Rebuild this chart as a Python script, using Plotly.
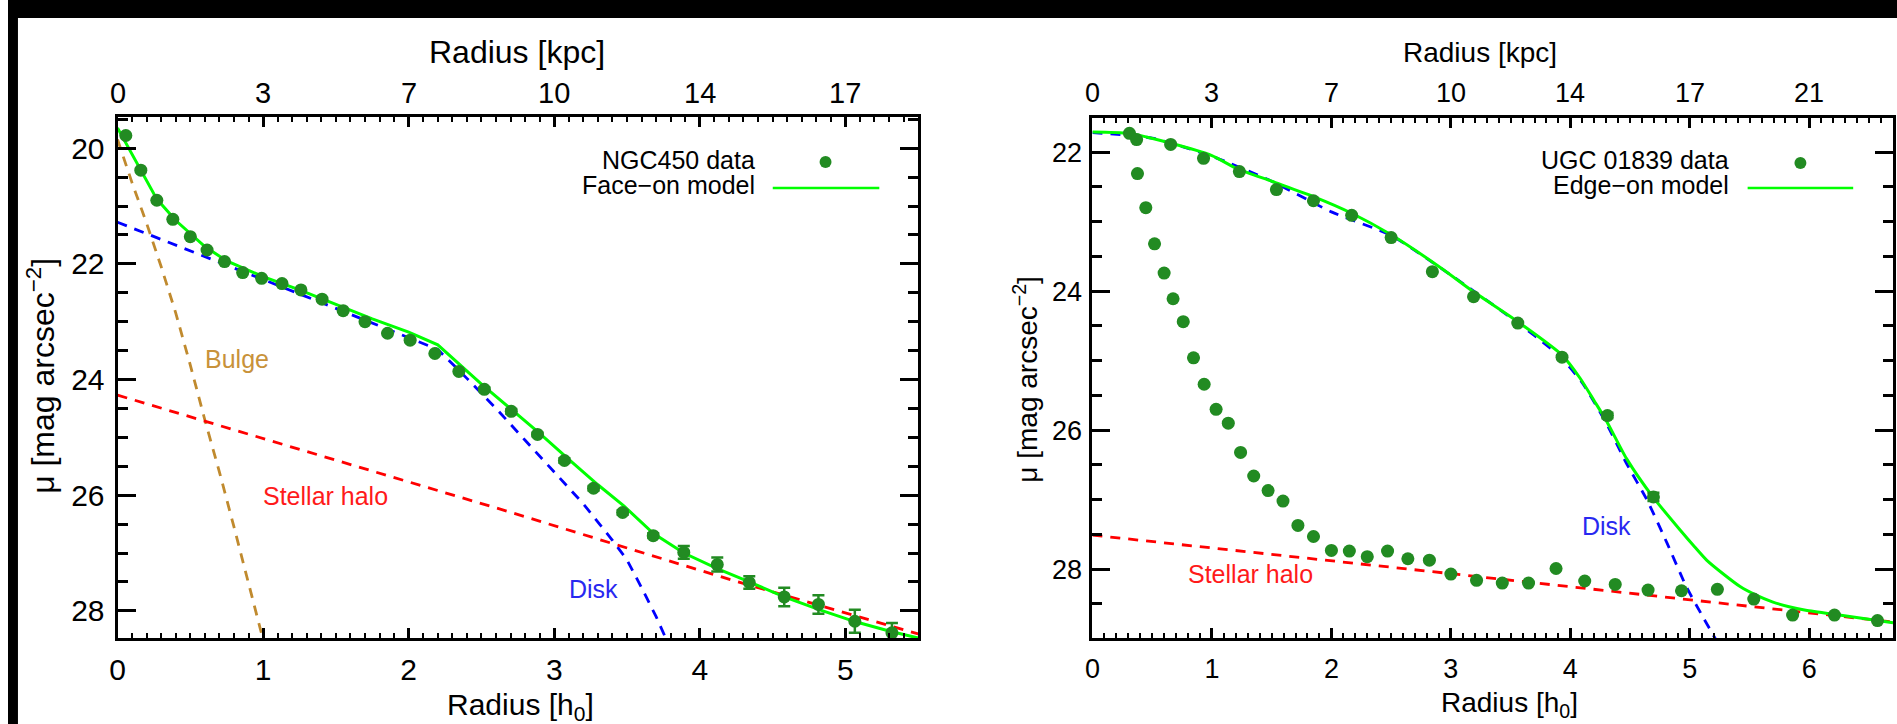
import plotly.graph_objects as go

# ---------------- NGC450 (face-on) ----------------
ngc_r = [0.057, 0.16, 0.27, 0.38, 0.50, 0.615, 0.735, 0.86, 0.99, 1.13, 1.26, 1.405,
         1.55, 1.70, 1.855, 2.01, 2.18, 2.345, 2.52, 2.705, 2.885, 3.07, 3.27, 3.47,
         3.68, 3.89, 4.12, 4.34, 4.58, 4.815, 5.065, 5.32]
ngc_mu = [19.78, 20.38, 20.90, 21.23, 21.53, 21.76, 21.96, 22.15, 22.25, 22.34, 22.45, 22.61,
          22.81, 23.00, 23.20, 23.32, 23.55, 23.86, 24.17, 24.55, 24.95, 25.40, 25.88, 26.30,
          26.70, 26.99, 27.20, 27.51, 27.76, 27.89, 28.18, 28.38]
ngc_err = [0, 0, 0, 0, 0, 0, 0, 0, 0, 0, 0, 0,
           0, 0, 0, 0, 0, 0, 0.03, 0.04, 0.03, 0.04, 0.04, 0.04,
           0.04, 0.11, 0.12, 0.11, 0.16, 0.16, 0.20, 0.17]

ngc_model_r = [0.0, 0.16, 0.27, 0.4, 0.5, 0.6, 0.75, 1.0, 1.25, 1.5, 1.75, 2.0, 2.2, 2.5,
               2.7, 2.9, 3.1, 3.3, 3.48, 3.68, 3.89, 4.12, 4.34, 4.58, 4.82, 5.07, 5.3, 5.5]
ngc_model_mu = [19.65, 20.38, 20.88, 21.25, 21.48, 21.70, 21.95, 22.22, 22.45, 22.70, 22.95,
                23.18, 23.40, 24.08, 24.50, 24.93, 25.38, 25.82, 26.19, 26.66, 27.00, 27.27,
                27.50, 27.76, 27.98, 28.19, 28.35, 28.47]

ngc_bulge_r = [0.0, 0.1, 0.2, 0.3, 0.4, 0.5, 0.6, 0.7, 0.8, 0.9, 1.0]
ngc_bulge_mu = [19.85, 20.60, 21.30, 22.05, 22.85, 23.75, 24.70, 25.60, 26.55, 27.50, 28.50]

ngc_disk_r = [0.0, 0.5, 1.0, 1.5, 2.0, 2.2, 2.4, 2.6, 2.8, 3.0, 3.2, 3.4, 3.5, 3.6, 3.7, 3.78]
ngc_disk_mu = [21.28, 21.77, 22.27, 22.77, 23.27, 23.48, 23.98, 24.50, 25.05, 25.60, 26.15,
               26.78, 27.12, 27.60, 28.10, 28.55]

ngc_halo_r = [0.0, 2.64, 4.21, 5.5]
ngc_halo_mu = [24.27, 26.25, 27.46, 28.40]

# ---------------- UGC 01839 (edge-on) ----------------
ugc_r = [0.31, 0.37, 0.655, 0.93, 1.23, 1.54, 1.85, 2.17, 2.50, 2.845, 3.19, 3.56, 3.93, 4.31, 4.695,
         0.377, 0.447, 0.52, 0.60, 0.675, 0.76, 0.846, 0.935, 1.035, 1.137, 1.24, 1.35, 1.47,
         1.595, 1.72, 1.85, 2.0, 2.15, 2.30, 2.47, 2.64, 2.82, 3.0, 3.215, 3.43, 3.65, 3.88,
         4.12, 4.375, 4.65, 4.93, 5.23, 5.535, 5.86, 6.21, 6.57]
ugc_mu = [21.73, 21.82, 21.89, 22.09, 22.28, 22.54, 22.70, 22.91, 23.23, 23.72, 24.08, 24.46, 24.95, 25.79, 26.96,
          22.31, 22.80, 23.32, 23.74, 24.11, 24.44, 24.96, 25.34, 25.70, 25.90, 26.32, 26.66, 26.87,
          27.02, 27.37, 27.53, 27.73, 27.74, 27.82, 27.74, 27.85, 27.87, 28.07, 28.16, 28.20, 28.20, 27.99,
          28.17, 28.22, 28.30, 28.31, 28.29, 28.43, 28.66, 28.66, 28.74]
ugc_err = [0, 0, 0, 0, 0, 0, 0, 0, 0, 0, 0, 0, 0, 0.04, 0.06] + [0] * 36

ugc_model_r = [0.0, 0.3, 0.65, 1.0, 1.2, 1.5, 1.85, 2.17, 2.5, 2.92, 3.19, 3.56, 3.93, 4.08,
               4.2, 4.3, 4.47, 4.69, 4.92, 5.03, 5.14, 5.28, 5.42, 5.55, 5.69, 5.83, 5.97,
               6.25, 6.7]
ugc_model_mu = [21.71, 21.73, 21.87, 22.05, 22.23, 22.42, 22.64, 22.88, 23.19, 23.67, 24.01,
                24.44, 24.92, 25.25, 25.58, 25.86, 26.41, 26.96, 27.44, 27.66, 27.87, 28.07,
                28.25, 28.37, 28.47, 28.54, 28.59, 28.66, 28.77]

ugc_disk_r = [0.0, 0.5, 1.0, 1.5, 2.0, 2.5, 3.0, 3.5, 3.9, 4.1, 4.3, 4.47, 4.64, 4.81, 4.97, 5.11, 5.22]
ugc_disk_mu = [21.72, 21.80, 22.06, 22.42, 22.86, 23.20, 23.77, 24.38, 24.92, 25.32, 25.90,
               26.48, 27.00, 27.63, 28.25, 28.69, 29.02]

ugc_halo_r = [0.0, 2.975, 6.7]
ugc_halo_mu = [27.51, 28.06, 28.76]

# axis ticks
ngc_h_ticks = [0, 1, 2, 3, 4, 5]
ngc_kpc_labels = ["0", "3", "7", "10", "14", "17"]
ugc_h_ticks = [0, 1, 2, 3, 4, 5, 6]
ugc_kpc_labels = ["0", "3", "7", "10", "14", "17", "21"]
ngc_mu_ticks = [20, 22, 24, 26, 28]
ugc_mu_ticks = [22, 24, 26, 28]

# ---------------- styling ----------------
W, H = 1897, 724
FONT = "Liberation Sans, Arial, Helvetica, sans-serif"
NARROW = "Liberation Sans Narrow, Arial Narrow, Liberation Sans, Arial, sans-serif"
DOT = "#228B22"
MODEL = "#00FF00"
BULGE = "#C08A2E"
DISK = "#0000FF"
HALO = "#FF0000"
DASH = "10px,8px"


def px(x):
    return x / W


def py(y):
    return 1 - y / H


L_DOM = [px(110), px(914)]
R_DOM = [px(1089), px(1893)]
Y_DOM_L = [py(638), py(117)]
Y_DOM_R = [py(638), py(118)]

fig = go.Figure()


def line(x, y, color, xa, ya, dash=None, width=3, shape="linear"):
    fig.add_trace(go.Scatter(x=x, y=y, mode="lines", xaxis=xa, yaxis=ya, showlegend=False,
                             line=dict(color=color, width=width, dash=dash, shape=shape,
                                       smoothing=0.6 if shape == "spline" else None),
                             hoverinfo="skip"))


# left panel
line(ngc_bulge_r, ngc_bulge_mu, BULGE, "x", "y", DASH, 2.8)
line(ngc_disk_r, ngc_disk_mu, DISK, "x", "y", DASH, 2.8)
line(ngc_halo_r, ngc_halo_mu, HALO, "x", "y", DASH, 2.8)
line(ngc_model_r, ngc_model_mu, MODEL, "x", "y", None, 3)
fig.add_trace(go.Scatter(x=ngc_r, y=ngc_mu, mode="markers", xaxis="x", yaxis="y", showlegend=False,
                         marker=dict(color=DOT, size=13, line=dict(width=0)),
                         error_y=dict(type="data", array=ngc_err, color=DOT, thickness=2.5, width=6)))

# right panel
line(ugc_disk_r, ugc_disk_mu, DISK, "x2", "y2", DASH, 2.8, "spline")
line(ugc_halo_r, ugc_halo_mu, HALO, "x2", "y2", DASH, 2.8)
line(ugc_model_r, ugc_model_mu, MODEL, "x2", "y2", None, 3, "spline")
fig.add_trace(go.Scatter(x=ugc_r, y=ugc_mu, mode="markers", xaxis="x2", yaxis="y2", showlegend=False,
                         marker=dict(color=DOT, size=13, line=dict(width=0)),
                         error_y=dict(type="data", array=ugc_err, color=DOT, thickness=2.5, width=6)))


def xaxis_common(dom, rng, anchor, tickvals, size, standoff):
    # bottom axis; its ticks are repeated along the top edge
    return dict(domain=dom, range=rng, anchor=anchor, showline=True, linecolor="black", linewidth=3,
                mirror="allticks", ticks="inside", ticklen=10, tickwidth=2.5, tickcolor="black",
                tickvals=tickvals, showgrid=False, zeroline=False, fixedrange=True,
                tickfont=dict(family=FONT, size=size, color="black"), ticklabelstandoff=standoff,
                minor=dict(dtick=0.1, ticks="inside", ticklen=5, tickwidth=2, tickcolor="black",
                           showgrid=False))


def yaxis_common(dom, rng, anchor, tickvals, size, standoff):
    return dict(domain=dom, range=rng, anchor=anchor, showline=True, linecolor="black", linewidth=3,
                mirror="allticks", ticks="inside", ticklen=18, tickwidth=2.5, tickcolor="black",
                tickvals=tickvals, showgrid=False, zeroline=False, fixedrange=True,
                tickfont=dict(family=FONT, size=size, color="black"), ticklabelstandoff=standoff,
                minor=dict(dtick=0.5, ticks="inside", ticklen=10, tickwidth=2.5, tickcolor="black",
                           showgrid=False))


fig.update_layout(
    width=W, height=H, margin=dict(l=0, r=0, t=0, b=0),
    paper_bgcolor="white", plot_bgcolor="white", showlegend=False,
    font=dict(family=FONT, color="black"),
    xaxis=xaxis_common(L_DOM, [0, 5.5], "y", ngc_h_ticks, 30, 3),
    yaxis=yaxis_common(Y_DOM_L, [28.47, 19.46], "x", ngc_mu_ticks, 30, 4),
    xaxis2=xaxis_common(R_DOM, [0, 6.7], "y2", ugc_h_ticks, 27, 5),
    yaxis2=yaxis_common(Y_DOM_R, [28.99, 21.51], "x2", ugc_mu_ticks, 27, 2),
)

ann = []


def paper_text(text, x, y, size, angle=0, xanchor="center", color="black"):
    ann.append(dict(text=text, x=px(x), y=py(y), xref="paper", yref="paper", showarrow=False,
                    xanchor=xanchor, yanchor="middle", textangle=angle,
                    font=dict(family=FONT, size=size, color=color)))


# axis titles
paper_text("Radius [kpc]", 511, 52, 32)
paper_text("Radius [h<sub>0</sub>]", 515, 706, 30)
paper_text("μ [mag arcsec<sup>−2</sup>]", 33, 376, 32, angle=-90)
paper_text("Radius [kpc]", 1478, 52, 28)
paper_text("Radius [h<sub>0</sub>]", 1508, 704, 28)
paper_text("μ [mag arcsec<sup>−2</sup>]", 1022, 379, 28, angle=-90)

# kpc scale along the top edge of each panel
for v, t in zip(ngc_h_ticks, ngc_kpc_labels):
    ann.append(dict(text=t, x=v, y=py(93), xref="x", yref="paper", showarrow=False,
                    xanchor="center", yanchor="middle",
                    font=dict(family=NARROW, size=29, color="black")))
for v, t in zip(ugc_h_ticks, ugc_kpc_labels):
    ann.append(dict(text=t, x=v, y=py(93), xref="x2", yref="paper", showarrow=False,
                    xanchor="center", yanchor="middle",
                    font=dict(family=NARROW, size=27, color="black")))

# legends
paper_text("NGC450 data", 752, 160, 25, xanchor="right")
paper_text("Face−on model", 752, 185, 25, xanchor="right")
paper_text("UGC 01839 data", 1730, 160, 25, xanchor="right")
paper_text("Edge−on model", 1730, 185, 25, xanchor="right")


def data_text(text, x, y, xr, yr, color):
    ann.append(dict(text=text, x=x, y=y, xref=xr, yref=yr, showarrow=False,
                    font=dict(family=FONT, size=25, color=color)))


data_text("Bulge", 0.82, 23.64, "x", "y", "#C8923A")
data_text("Stellar halo", 1.43, 26.02, "x", "y", "#FF1A1A")
data_text("Disk", 3.27, 27.63, "x", "y", "#2828F0")
data_text("Stellar halo", 1.325, 28.07, "x2", "y2", "#FF1A1A")
data_text("Disk", 4.30, 27.38, "x2", "y2", "#2828F0")

fig.update_layout(annotations=ann)

shapes = [
    # dark border strips along the top and left edge
    dict(type="rect", xref="paper", yref="paper", x0=0, x1=1, y0=py(18), y1=1,
         fillcolor="black", line=dict(width=0), layer="below"),
    dict(type="rect", xref="paper", yref="paper", x0=0, x1=px(10), y0=0, y1=1,
         fillcolor="black", line=dict(width=0), layer="below"),
    # legend symbols
    dict(type="circle", xref="paper", yref="paper", x0=px(815), x1=px(827), y0=py(168), y1=py(156),
         fillcolor=DOT, line=dict(width=0)),
    dict(type="line", xref="paper", yref="paper", x0=px(768), x1=px(875), y0=py(188), y1=py(188),
         line=dict(color=MODEL, width=2.5)),
    dict(type="circle", xref="paper", yref="paper", x0=px(1794), x1=px(1806), y0=py(169), y1=py(157),
         fillcolor=DOT, line=dict(width=0)),
    dict(type="line", xref="paper", yref="paper", x0=px(1747), x1=px(1853), y0=py(188), y1=py(188),
         line=dict(color=MODEL, width=2.5)),
]
fig.update_layout(shapes=shapes)

fig.write_html("out.html")
